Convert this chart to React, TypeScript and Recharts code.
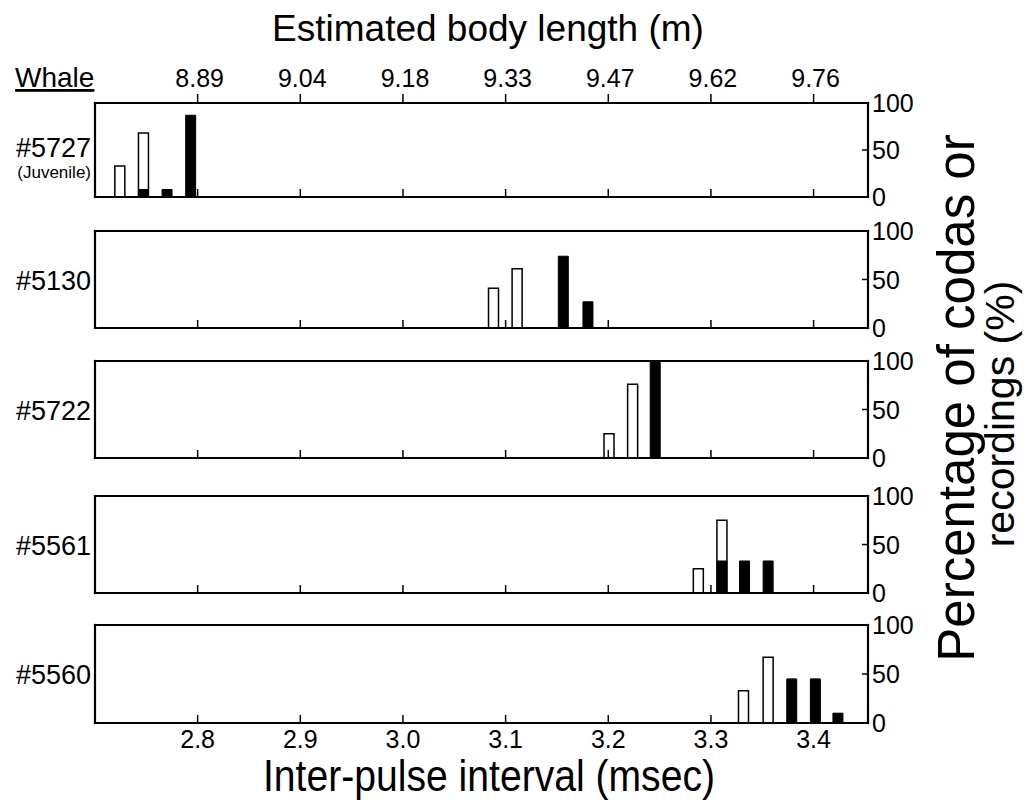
import React from 'react';
import { BarChart, Bar, XAxis, YAxis } from 'recharts';

const FONT = "'Liberation Sans', Arial, Helvetica, sans-serif";
const NARROW = "'Liberation Sans Narrow', 'Arial Narrow', 'Liberation Sans', Arial, sans-serif";

// Inter-pulse interval bins (msec) with % of codas (open) and % of recordings (filled)
const ipi5727 = [2.724, 2.747, 2.77, 2.793];
const codas5727 = [33, 68, null, null];
const recordings5727 = [null, 8, 8, 87];

const ipi5130 = [3.088, 3.111, 3.156, 3.18];
const codas5130 = [41, 61, null, null];
const recordings5130 = [null, null, 74, 27];

const ipi5722 = [3.201, 3.224, 3.246];
const codas5722 = [25, 76, null];
const recordings5722 = [null, null, 100];

const ipi5561 = [3.288, 3.311, 3.333, 3.356];
const codas5561 = [25, 75, null, null];
const recordings5561 = [null, 33, 33, 33];

const ipi5560 = [3.332, 3.356, 3.379, 3.402, 3.424];
const codas5560 = [33, 67, null, null, null];
const recordings5560 = [null, null, 45, 45, 10];

const ipiTicks = [2.8, 2.9, 3.0, 3.1, 3.2, 3.3, 3.4];
const bodyLengthLabels = ['8.89', '9.04', '9.18', '9.33', '9.47', '9.62', '9.76'];
const percentTicks = [0, 50, 100];
const whaleIds = ['#5727', '#5130', '#5722', '#5561', '#5560'];

const X_DOMAIN: [number, number] = [2.7, 3.453];
const TOP_H = 45;
const BOTTOM_H = 40;
const AXIS = { stroke: '#000', strokeWidth: 2.2, strokeLinecap: 'square' as const };

type Row = { x: number; codas: number | null; recordings: number | null };
const buildRows = (ipi: number[], codas: (number | null)[], recs: (number | null)[]): Row[] =>
  ipi.map((x, i) => ({ x, codas: codas[i], recordings: recs[i] }));

const panels = [
  { id: whaleIds[0], sub: '(Juvenile)', rows: buildRows(ipi5727, codas5727, recordings5727), top: 103, bottom: 197 },
  { id: whaleIds[1], rows: buildRows(ipi5130, codas5130, recordings5130), top: 231, bottom: 328 },
  { id: whaleIds[2], rows: buildRows(ipi5722, codas5722, recordings5722), top: 361, bottom: 458 },
  { id: whaleIds[3], rows: buildRows(ipi5561, codas5561, recordings5561), top: 496, bottom: 593 },
  { id: whaleIds[4], rows: buildRows(ipi5560, codas5560, recordings5560), top: 625, bottom: 723 },
];

const BottomTick = (props: any) => {
  const { x, y, payload, showLabel } = props;
  return (
    <g>
      <line x1={x} y1={y} x2={x} y2={y - 8} stroke="#000" strokeWidth={1.5} />
      {showLabel && (
        <text x={x} y={y + 25} textAnchor="middle" fontSize={25} fontFamily={FONT} fill="#000">
          {Number(payload.value).toFixed(1)}
        </text>
      )}
    </g>
  );
};

const TopTick = (props: any) => {
  const { x, y, index } = props;
  return (
    <g>
      <line x1={x} y1={y} x2={x} y2={y - 9} stroke="#000" strokeWidth={1.5} />
      <text x={x + 2} y={y - 16} textAnchor="middle" fontSize={25} fontFamily={FONT} fill="#000">
        {bodyLengthLabels[index]}
      </text>
    </g>
  );
};

const RightTick = (props: any) => {
  const { x, y, payload } = props;
  return (
    <g>
      <line x1={x - 6} y1={y} x2={x} y2={y} stroke="#000" strokeWidth={1.5} />
      <text x={x + 4} y={y} dy="0.36em" textAnchor="start" fontSize={25} fontFamily={FONT} fill="#000">
        {payload.value}
      </text>
    </g>
  );
};

function Panel({ rows, top, bottom, showTop, showBottom }: { rows: Row[]; top: number; bottom: number; showTop: boolean; showBottom: boolean }) {
  const h = bottom - top;
  return (
    <div style={{ position: 'absolute', left: 0, top: top - TOP_H }}>
      <BarChart
        width={1026}
        height={TOP_H + h + BOTTOM_H}
        data={rows}
        margin={{ top: 0, right: 98, bottom: 0, left: 94 }}
        barSize={10}
        barGap={-10}
      >
        <XAxis
          xAxisId="b"
          dataKey="x"
          type="number"
          domain={X_DOMAIN}
          ticks={ipiTicks}
          interval={0}
          allowDataOverflow
          height={BOTTOM_H}
          tickSize={0}
          tickMargin={0}
          tickLine={false}
          axisLine={AXIS}
          tick={(p: any) => <BottomTick {...p} showLabel={showBottom} />}
        />
        <XAxis
          xAxisId="t"
          orientation="top"
          dataKey="x"
          type="number"
          domain={X_DOMAIN}
          ticks={ipiTicks}
          interval={0}
          allowDataOverflow
          height={TOP_H}
          tickSize={0}
          tickMargin={0}
          tickLine={false}
          axisLine={AXIS}
          tick={showTop ? (p: any) => <TopTick {...p} /> : false}
        />
        <YAxis yAxisId="l" orientation="left" domain={[0, 100]} width={1} tick={false} tickLine={false} axisLine={AXIS} />
        <YAxis
          yAxisId="r"
          orientation="right"
          domain={[0, 100]}
          ticks={percentTicks}
          interval={0}
          width={60}
          tickSize={0}
          tickMargin={0}
          tickLine={false}
          axisLine={AXIS}
          tick={(p: any) => <RightTick {...p} />}
        />
        <Bar xAxisId="b" yAxisId="r" dataKey="codas" fill="#fff" stroke="#000" strokeWidth={1.5} isAnimationActive={false} />
        <Bar xAxisId="b" yAxisId="r" dataKey="recordings" fill="#000" stroke="#000" strokeWidth={1} isAnimationActive={false} />
      </BarChart>
    </div>
  );
}

export default function App() {
  return (
    <div style={{ position: 'absolute', left: 0, top: 0, width: 1026, height: 805, background: '#fff', overflow: 'hidden' }}>
      {panels.map((p, i) => (
        <Panel key={p.id} rows={p.rows} top={p.top} bottom={p.bottom} showTop={i === 0} showBottom={i === panels.length - 1} />
      ))}
      <svg width={1026} height={805} style={{ position: 'absolute', left: 0, top: 0, pointerEvents: 'none' }} fontFamily={FONT}>
        <text x={488} y={41} textAnchor="middle" fontSize={37} fill="#000">
          Estimated body length (m)
        </text>
        <text x={15} y={87} fontSize={28} fill="#000" style={{ textDecoration: 'underline' }}>
          Whale
        </text>
        {panels.map((p) => {
          const mid = (p.top + p.bottom) / 2;
          return p.sub ? (
            <g key={p.id}>
              <text x={91} y={157} textAnchor="end" fontSize={27} fill="#000">{p.id}</text>
              <text x={91} y={178} textAnchor="end" fontSize={17} fill="#000">{p.sub}</text>
            </g>
          ) : (
            <text key={p.id} x={91} y={mid + 10} textAnchor="end" fontSize={27} fill="#000">{p.id}</text>
          );
        })}
        <text
          x={489}
          y={791}
          textAnchor="middle"
          fontSize={44}
          fontFamily={NARROW}
          textLength={452}
          lengthAdjust="spacingAndGlyphs"
          fill="#000"
        >
          Inter-pulse interval (msec)
        </text>
        <text transform="translate(974,398) rotate(-90)" textAnchor="middle" fontSize={51} fill="#000">
          Percentage of codas or
        </text>
        <text transform="translate(1014,414) rotate(-90)" textAnchor="middle" fontSize={41} fill="#000">
          recordings (%)
        </text>
      </svg>
    </div>
  );
}
